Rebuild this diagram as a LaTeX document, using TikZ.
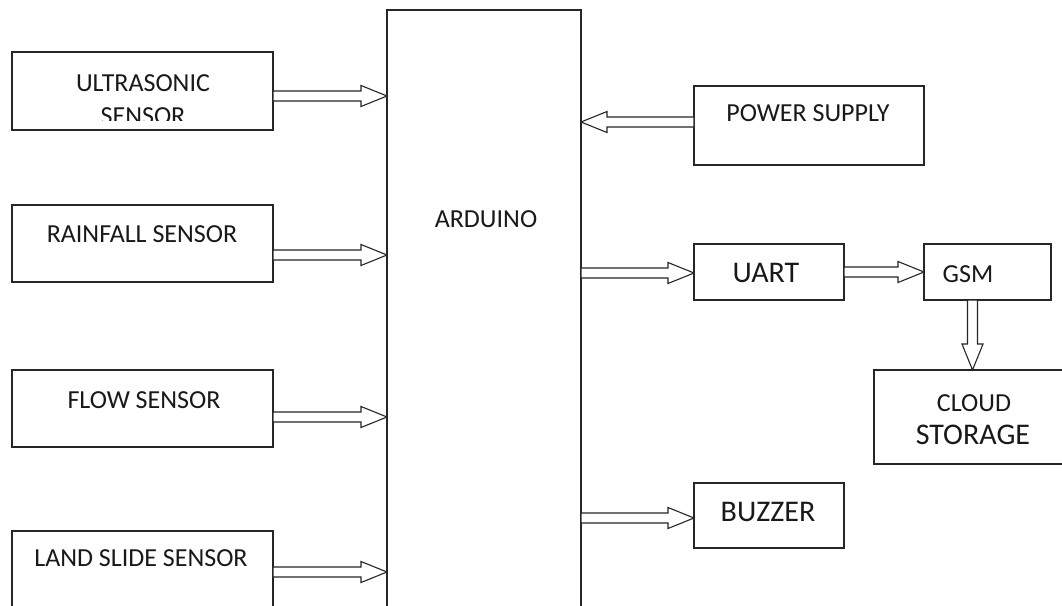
\documentclass[tikz,border=0pt]{standalone}
\usepackage{fontspec}
\setmainfont{Carlito}
\usetikzlibrary{calc}
\begin{document}
\begin{tikzpicture}[x=1pt,y=-1pt,
  box/.style={draw=black!85, line width=1.5pt, inner sep=0pt, outer sep=0pt, anchor=north west},
  txt/.style={font=\fontsize{26}{32}\selectfont, inner sep=0pt, anchor=base, text=black!90},
  bigtxt/.style={font=\fontsize{30}{36}\selectfont, inner sep=0pt, anchor=base, text=black!90},
  blk/.style={draw=black!85, line width=1.1pt, fill=white, line join=miter, to path={
    let \p1=(\tikztostart), \p2=(\tikztotarget), \n1={atan2(\y2-\y1,\x2-\x1)},
        \n2={cos(\n1)}, \n3={sin(\n1)} in
    ({\x1-(\n3)*5pt},{\y1+(\n2)*5pt})
    -- ({\x2-(\n2)*26pt-(\n3)*5pt},{\y2-(\n3)*26pt+(\n2)*5pt})
    -- ({\x2-(\n2)*26pt-(\n3)*10.5pt},{\y2-(\n3)*26pt+(\n2)*10.5pt})
    -- (\p2)
    -- ({\x2-(\n2)*26pt+(\n3)*10.5pt},{\y2-(\n3)*26pt-(\n2)*10.5pt})
    -- ({\x2-(\n2)*26pt+(\n3)*5pt},{\y2-(\n3)*26pt-(\n2)*5pt})
    -- ({\x1+(\n3)*5pt},{\y1-(\n2)*5pt}) -- cycle}}]
\useasboundingbox (0,0) rectangle (1062,605);
\clip (0,0) rectangle (1062,605);
\fill[white] (0,0) rectangle (1062,605);
% boxes
\node[box, minimum width=261pt, minimum height=78pt] (us) at (12,52) {};
\node[box, minimum width=261pt, minimum height=77pt] (rf) at (12,205) {};
\node[box, minimum width=261pt, minimum height=77pt] (fl) at (12,370) {};
\node[box, minimum width=261pt, minimum height=90pt] (ls) at (12,531) {};
\node[box, minimum width=194pt, minimum height=620pt] (ard) at (387,10) {};
\node[box, minimum width=230pt, minimum height=79pt] (ps) at (694,86) {};
\node[box, minimum width=150pt, minimum height=56pt] (uart) at (694,244) {};
\node[box, minimum width=127pt, minimum height=56pt] (gsm) at (924,244) {};
\node[box, minimum width=200pt, minimum height=94pt] (cs) at (874,370) {};
\node[box, minimum width=150pt, minimum height=65pt] (bz) at (694,483) {};
% texts
\node[txt] (t1) at (143,91) {ULTRASONIC};
\begin{scope}
\clip (12,52) rectangle (273,120);
\node[txt] (t1b) at (143,124) {SENSOR};
\end{scope}
\node[txt] (t2) at (142,242) {RAINFALL SENSOR};
\node[txt] (t3) at (144,408) {FLOW SENSOR};
\node[txt] (t4) at (141,566) {LAND SLIDE SENSOR};
\node[txt] (t5) at (486,227) {ARDUINO};
\node[txt] (t6) at (808,121) {POWER SUPPLY};
\node[bigtxt] (t7) at (766,282) {UART};
\node[txt] (t8) at (968,282) {GSM};
\node[txt] (t9) at (974,411) {CLOUD};
\node[bigtxt] (t10) at (973,444) {STORAGE};
\node[bigtxt] (t11) at (768,521) {BUZZER};
% arrows
\draw[blk] ([yshift=-5pt]us.east) to ([yshift=-5pt]us.east -| ard.west);
\draw[blk] ([yshift=-11.5pt]rf.east) to ([yshift=-11.5pt]rf.east -| ard.west);
\draw[blk] ([yshift=-8.5pt]fl.east) to ([yshift=-8.5pt]fl.east -| ard.west);
\draw[blk] ([yshift=-41pt]ls.north east) to ([yshift=-41pt]ls.north east -| ard.west);
\draw[blk] ([yshift=3.5pt]ps.west) to ([yshift=3.5pt]ps.west -| ard.east);
\draw[blk] ([yshift=-1pt]uart.west -| ard.east) to ([yshift=-1pt]uart.west);
\draw[blk] (uart.east) to (gsm.west);
\draw[blk] ([xshift=-15pt]gsm.south) to ([xshift=-15pt]gsm.south |- cs.north);
\draw[blk] ([yshift=-2.5pt]bz.west -| ard.east) to ([yshift=-2.5pt]bz.west);
\end{tikzpicture}
\end{document}
